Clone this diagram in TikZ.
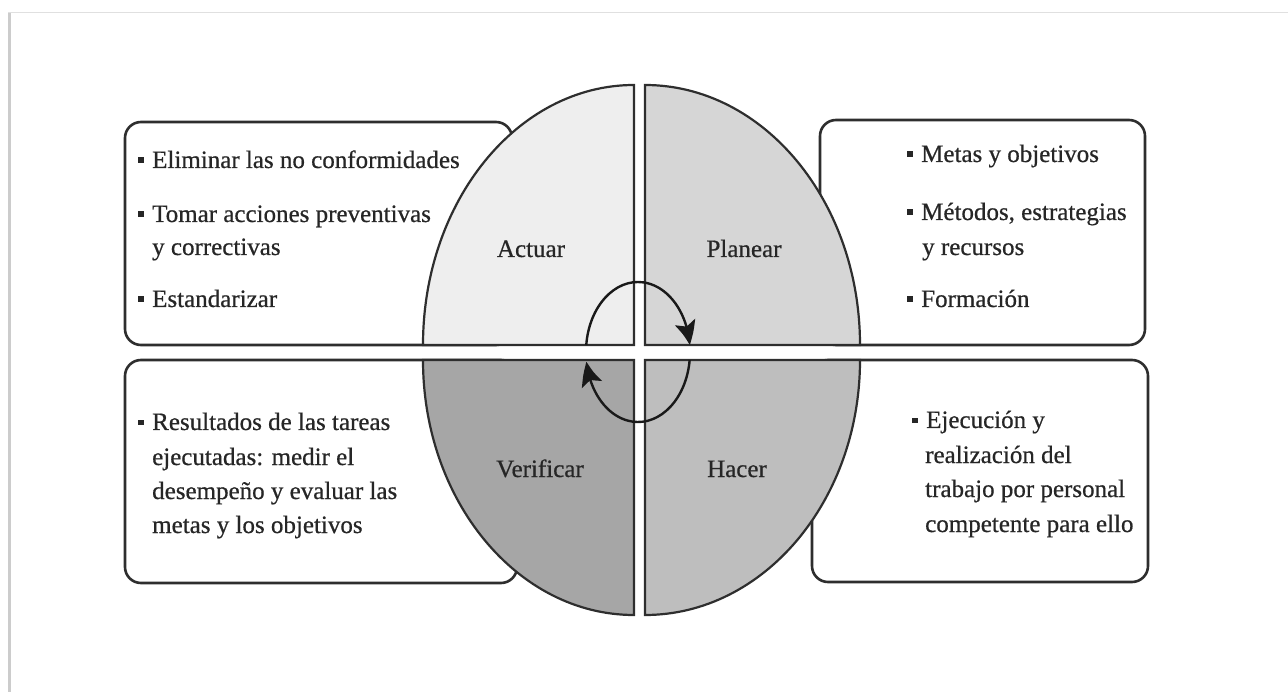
\documentclass[tikz,border=0pt]{standalone}
\usepackage{fontspec}
\setmainfont{Liberation Serif}
\newfontfamily\diagramfont{Liberation Serif}[FakeBold=0.6]
\usetikzlibrary{arrows.meta,bending}
\definecolor{qactuar}{HTML}{EEEEEE}
\definecolor{qplanear}{HTML}{D6D6D6}
\definecolor{qverificar}{HTML}{A6A6A6}
\definecolor{qhacer}{HTML}{BEBEBE}
\definecolor{inkline}{HTML}{2E2E2E}
\definecolor{inktext}{HTML}{262626}
\newcommand{\pdcabul}{\rule[5pt]{5.5pt}{5.5pt}\hspace{8.5pt}}
\begin{document}
\begin{tikzpicture}[x=1pt,y=-1pt,
  infobox/.style={draw=inkline,line width=2.6pt,rounded corners=16pt,fill=white},
  quad/.style={draw=inkline,line width=2.2pt},
  cycle arrow/.style={draw=black!90,line width=2.4pt,-{Stealth[length=24pt,width=21pt,inset=5pt,bend]}},
  line/.style={anchor=base west,inner sep=0pt,text=inktext,font=\diagramfont\fontsize{25}{33}\selectfont},
  phase/.style={anchor=base,inner sep=0pt,text=inktext,font=\diagramfont\fontsize{25}{33}\selectfont}]
\useasboundingbox (0,0) rectangle (1288,692);
% page frame
\draw[black!12,line width=1pt] (8,13) -- (1288,13);
\draw[black!20,line width=3pt] (9.5,13) -- (9.5,692);

% text boxes, partly covered by the quadrants
\path[infobox] (125,122) rectangle (512,345);
\path[infobox] (820,120) rectangle (1145,345);
\path[infobox] (125,360) rectangle (517,583);
\path[infobox] (812,360) rectangle (1148,582);

% the four quadrants of the cycle
\path[quad,fill=qactuar] (634,345) -- (423,345)
  arc[start angle=180,end angle=270,x radius=211,y radius=260] -- cycle;
\path[quad,fill=qplanear] (645,345) -- (645,85)
  arc[start angle=270,end angle=360,x radius=215,y radius=260] -- cycle;
\path[quad,fill=qverificar] (634,360) -- (423,360)
  arc[start angle=180,end angle=90,x radius=211,y radius=255] -- cycle;
\path[quad,fill=qhacer] (645,360) -- (860,360)
  arc[start angle=0,end angle=90,x radius=215,y radius=255] -- cycle;

% circular arrows around the centre
\coordinate (c) at (638,352);
\draw[cycle arrow] (c) ++(185.7:52 and 70) arc[start angle=185.7,end angle=354.3,x radius=52,y radius=70];
\draw[cycle arrow] (c) ++(6.6:52 and 70) arc[start angle=6.6,end angle=172,x radius=52,y radius=70];

% phase names
\node[phase] (actuar) at (531,257) {Actuar};
\node[phase] (planear) at (744,257) {Planear};
\node[phase] (verificar) at (540,477) {Verificar};
\node[phase] (hacer) at (737,477) {Hacer};

% Actuar
\node[line] (a1) at (138,168) {\pdcabul Eliminar las no conformidades};
\node[line] (a2) at (138,222) {\pdcabul Tomar acciones preventivas};
\node[line] (a3) at (152,255) {y correctivas};
\node[line] (a4) at (138,307) {\pdcabul Estandarizar};

% Planear
\node[line] (p1) at (907,162) {\pdcabul Metas y objetivos};
\node[line] (p2) at (907,220) {\pdcabul Métodos, estrategias};
\node[line] (p3) at (922,255) {y recursos};
\node[line] (p4) at (907,307) {\pdcabul Formación};

% Verificar
\node[line] (v1) at (138,430) {\pdcabul Resultados de las tareas};
\node[line] (v2) at (152,465) {ejecutadas: medir el};
\node[line] (v3) at (152,499) {desempeño y evaluar las};
\node[line] (v4) at (152,533) {metas y los objetivos};

% Hacer
\node[line] (h1) at (912,428) {\pdcabul Ejecución y};
\node[line] (h2) at (925,463) {realización del};
\node[line] (h3) at (925,497) {trabajo por personal};
\node[line] (h4) at (925,532) {competente para ello};
\end{tikzpicture}
\end{document}
